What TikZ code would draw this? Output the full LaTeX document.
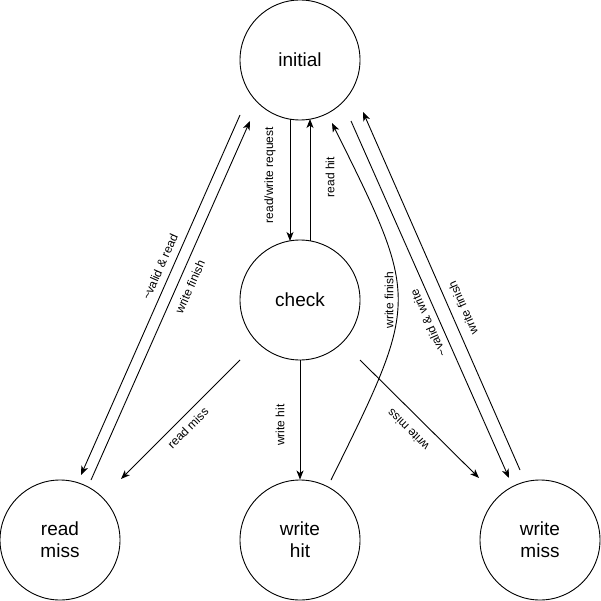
\documentclass[tikz,border=0pt]{standalone}
\usepackage{fontspec}
\setmainfont{Liberation Sans}
\usetikzlibrary{arrows.meta}
\begin{document}
\begin{tikzpicture}[x=1pt,y=-1pt,
  state/.style={draw, circle, minimum size=120pt, inner sep=0pt, line width=0.9pt,
    font=\fontsize{19}{22}\selectfont, align=center},
  edge/.style={line width=0.9pt, -{Stealth[length=9pt,width=7pt,inset=2.5pt]}},
  lbl/.style={font=\fontsize{12}{14}\selectfont, inner sep=0pt}]
\useasboundingbox (0,0) rectangle (601,601);
\node[state] (init)  at (300,60)  {initial};
\node[state] (check) at (300,300) {check};
\node[state] (rmiss) at (60,540)  {read\\miss};
\node[state] (whit)  at (300,540) {write\\hit};
\node[state] (wmiss) at (540,540) {write\\miss};
% endpoints
\coordinate (a1) at (240,115); \coordinate (a2) at (81,475);
\coordinate (b1) at (91,480);  \coordinate (b2) at (250,121);
\coordinate (c1) at (351,121); \coordinate (c2) at (509,478);
\coordinate (d1) at (520,470); \coordinate (d2) at (363,112);
\coordinate (e1) at (331,480); \coordinate (e2) at (332,123);
\coordinate (rq1) at (290,119); \coordinate (rq2) at (290,241);
\coordinate (rh1) at (310,241); \coordinate (rh2) at (310,119);
\coordinate (rm1) at (240,360); \coordinate (rm2) at (121,479);
\coordinate (wm1) at (360,360); \coordinate (wm2) at (479,478);
% connectors
\draw[edge] (rq1) -- (rq2);
\draw[edge] (rh1) -- (rh2);
\draw[edge] (a1) -- (a2);
\draw[edge] (b1) -- (b2);
\draw[edge] (c1) -- (c2);
\draw[edge] (d1) -- (d2);
\draw[edge] (e1) .. controls (420,300) .. (e2);
\draw[edge] (rm1) -- (rm2);
\draw[edge] (check.south) -- (whit.north);
\draw[edge] (wm1) -- (wm2);
% labels
\node[lbl, rotate=90] (l1) at (270,175) {read/write request};
\node[lbl, rotate=90] (l2) at (330,177) {read hit};
\node[lbl, rotate=66] (l3) at (160,267) {\textasciitilde valid \& read};
\node[lbl, rotate=66] (l4) at (190,287) {write finish};
\node[lbl, rotate=45] (l5) at (188,428) {read miss};
\node[lbl, rotate=90] (l6) at (280,425) {write hit};
\node[lbl, rotate=135] (l7) at (408,430) {write miss};
\node[lbl, rotate=114] (l8) at (428,323) {\textasciitilde valid \& write};
\node[lbl, rotate=114] (l9) at (463,308) {write finish};
\node[lbl, rotate=90] (l10) at (389,300) {write finish};
\end{tikzpicture}
\end{document}
